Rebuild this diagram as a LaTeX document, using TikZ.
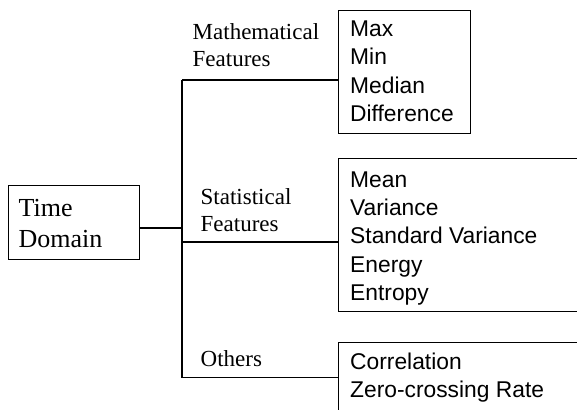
\documentclass[tikz,border=0pt]{standalone}
\usepackage{fontspec}
\setmainfont{Liberation Serif}
\setsansfont{Liberation Sans}
\begin{document}
\begin{tikzpicture}[x=1pt,y=-1pt,
  box/.style={draw=black, line width=1.3pt, inner sep=0pt, anchor=north west},
  lbl/.style={font=\fontsize{23}{27}\selectfont, anchor=base west, inner sep=0pt},
  big/.style={font=\fontsize{26}{31}\selectfont, anchor=base west, inner sep=0pt},
  item/.style={font=\sffamily\fontsize{22.8}{28}\selectfont, anchor=base west, inner sep=0pt},
  conn/.style={draw=black, line width=1.3pt}]
\useasboundingbox (0,0) rectangle (577,409);
\clip (0,0) rectangle (577,409);
% boxes
\node[box, minimum width=131pt, minimum height=74pt] (td) at (7.5,185) {};
\node[box, minimum width=132pt, minimum height=123pt] (b1) at (338,10) {};
\node[box, minimum width=270pt, minimum height=153pt] (b2) at (338,158) {};
\node[box, minimum width=270pt, minimum height=120pt] (b3) at (338,342) {};
% Time Domain text
\node[big] (tdA) at (18.5,216) {Time};
\node[big] (tdB) at (18.5,247) {Domain};
% branch labels
\node[lbl] (m1) at (192.5,40) {Mathematical};
\node[lbl] (m2) at (192.5,67) {Features};
\node[lbl] (s1) at (200.5,204) {Statistical};
\node[lbl] (s2) at (200.5,231) {Features};
\node[lbl] (o1) at (200.5,366) {Others};
% box items
\node[item] (i11) at (350,36.5) {Max};
\node[item] (i12) at (350,64.9) {Min};
\node[item] (i13) at (350,93.3) {Median};
\node[item] (i14) at (350,121.7) {Difference};
\node[item] (i21) at (350,187) {Mean};
\node[item] (i22) at (350,215.3) {Variance};
\node[item] (i23) at (350,243.6) {Standard Variance};
\node[item] (i24) at (350,272) {Energy};
\node[item] (i25) at (350,300.3) {Entropy};
\node[item] (i31) at (350,369) {Correlation};
\node[item] (i32) at (350,397) {Zero-crossing Rate};
% connectors
\coordinate (j0) at (182,228);
\coordinate (t1) at (182,80);
\coordinate (t2) at (182,242);
\coordinate (t3) at (182,377.5);
\draw[conn] (td.east |- j0) -- (j0);
\draw[conn] (t1) -- (t3);
\draw[conn] (t1) -- (b1.west |- t1);
\draw[conn] (t2) -- (b2.west |- t2);
\draw[conn] (t3) -- (b3.west |- t3);
\end{tikzpicture}
\end{document}
